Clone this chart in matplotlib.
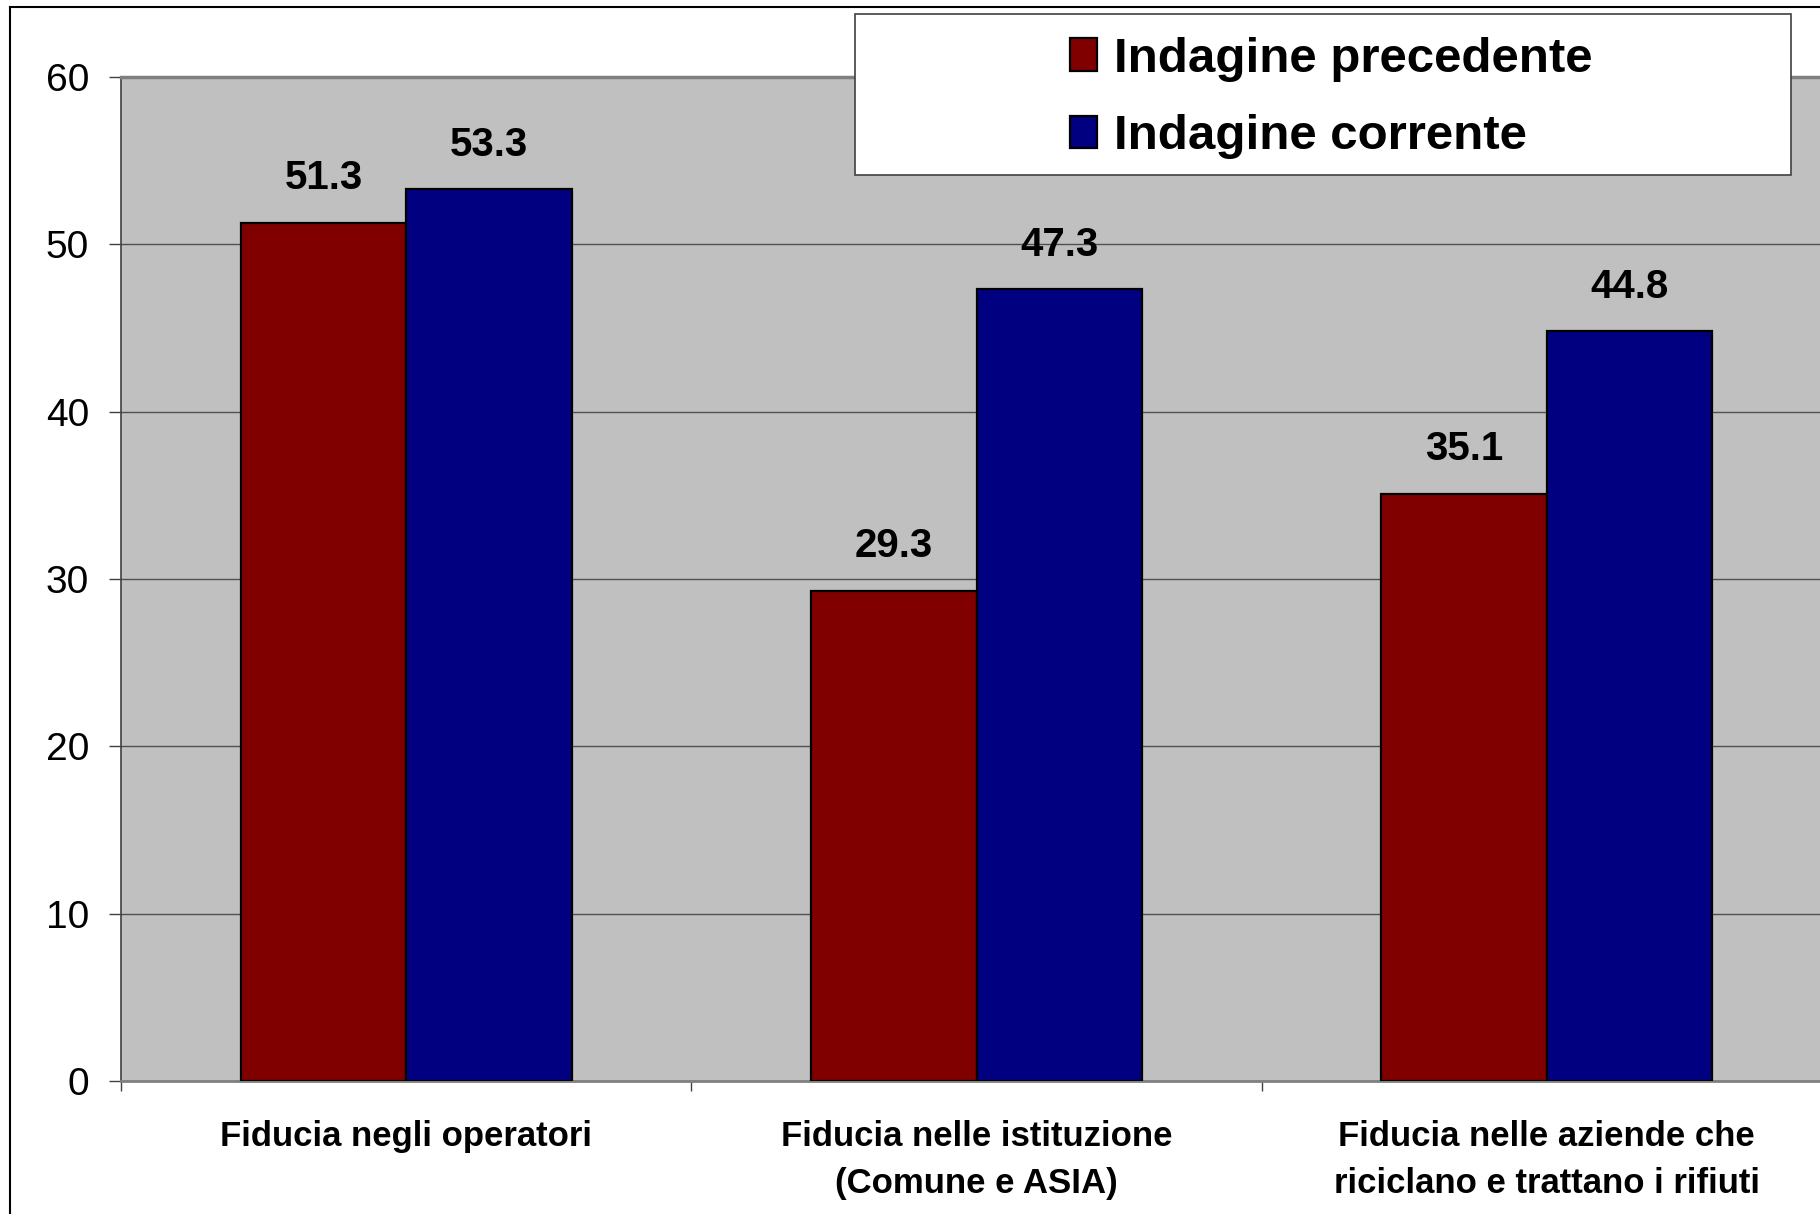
import matplotlib
matplotlib.use("Agg")
import matplotlib.pyplot as plt
from matplotlib.lines import Line2D
from matplotlib.patches import Rectangle

plt.rcParams['font.family'] = ['Liberation Sans', 'DejaVu Sans']

categories = ['Fiducia negli operatori',
              'Fiducia nelle istituzione\n(Comune e ASIA)',
              'Fiducia nelle aziende che\nriciclano e trattano i rifiuti']
precedente = [51.3, 29.3, 35.1]
corrente = [53.3, 47.3, 44.8]
series_names = ['Indagine precedente', 'Indagine corrente']
yticks = [0, 10, 20, 30, 40, 50, 60]

red = '#800000'
blue = '#000080'

fig = plt.figure(figsize=(18.2, 12.14), dpi=100)
ax = fig.add_axes([0.0665, 0.1096, 0.9401, 0.8270])
ax.set_facecolor('#C0C0C0')

# outer chart border (left and top edges visible)
fig.add_artist(Line2D([0.0055, 0.0055], [-0.1, 0.9942], color='black', lw=1.5,
                      transform=fig.transFigure))
fig.add_artist(Line2D([0.0055, 1.1], [0.9942, 0.9942], color='black', lw=1.5,
                      transform=fig.transFigure))

width = 0.29
centers = [i + 0.5 for i in range(len(categories))]
b1 = ax.bar([c - width for c in centers], precedente, width, align='edge',
            color=red, edgecolor='black', linewidth=1.6, zorder=3,
            label=series_names[0])
b2 = ax.bar(centers, corrente, width, align='edge',
            color=blue, edgecolor='black', linewidth=1.6, zorder=3,
            label=series_names[1])

for bars in (b1, b2):
    for rect in bars:
        v = rect.get_height()
        ax.annotate(f'{v:.1f}', (rect.get_x() + rect.get_width() / 2, v),
                    xytext=(0, 24), textcoords='offset points',
                    ha='center', va='baseline', fontsize=29,
                    fontweight='bold', zorder=4)

ax.set_xlim(0, 3)
ax.set_ylim(0, 60)
ax.set_yticks(yticks)
ax.tick_params(axis='y', labelsize=28, length=9, width=1, pad=14,
               color='#404040')
ax.yaxis.grid(True, color='#505050', lw=1)
ax.set_axisbelow(True)

ax.set_xticks([0, 1, 2, 3])
ax.set_xticklabels([])
ax.tick_params(axis='x', which='major', length=7, width=1, color='#404040')
ax.set_xticks(centers, categories, minor=True)
ax.tick_params(axis='x', which='minor', length=0, pad=28)
for lbl in ax.get_xticklabels(minor=True):
    lbl.set_fontsize(25)
    lbl.set_fontweight('bold')
    lbl.set_linespacing(1.55)

ax.spines['left'].set_color('#404040')
ax.spines['left'].set_linewidth(1.2)
ax.spines['bottom'].set_color('#808080')
ax.spines['bottom'].set_linewidth(2)
ax.spines['top'].set_color('#808080')
ax.spines['top'].set_linewidth(2.5)
ax.spines['right'].set_visible(False)

# legend box
box = Rectangle((0.4698, 0.8558), 0.5143, 0.1327, transform=fig.transFigure,
                facecolor='white', edgecolor='#404040', lw=1.2, zorder=5)
fig.add_artist(box)
leg = fig.legend(handles=[b1, b2], loc='center',
                 bbox_to_anchor=(0.4698 + 0.5143 / 2 + 0.0045,
                                 0.8558 + 0.1327 / 2 - 0.003),
                 frameon=False, prop={'size': 35.5, 'weight': 'bold'},
                 handlelength=0.56, handleheight=0.64, handletextpad=0.35,
                 labelspacing=0.66)
leg.set_zorder(6)

fig.savefig('out.png', dpi=100)
